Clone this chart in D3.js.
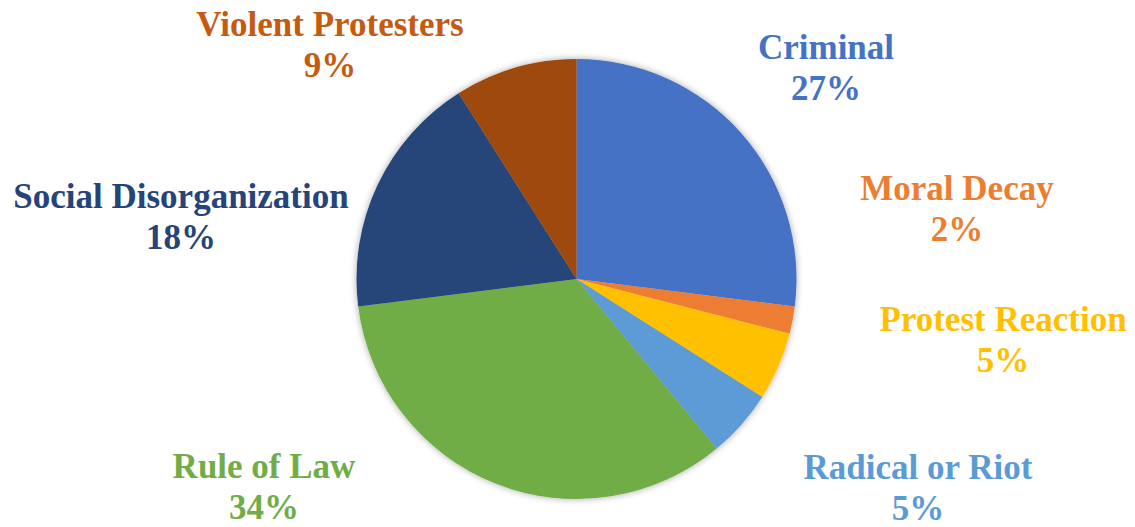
<!DOCTYPE html>
<html>
<head>
<meta charset="utf-8">
<script src="https://cdn.jsdelivr.net/npm/d3@7"></script>
<style>
  html, body { margin: 0; padding: 0; background: #ffffff; }
  svg { display: block; }
  text { font-family: "Liberation Serif", "Times New Roman", serif; font-weight: bold; }
</style>
</head>
<body>
<svg id="chart" width="1135" height="527"></svg>
<script>
// Share of each framing category, in percent, clockwise from 12 o'clock
const categories = ["Criminal", "Moral Decay", "Protest Reaction", "Radical or Riot",
                    "Rule of Law", "Social Disorganization", "Violent Protesters"];
const values = [27, 2, 5, 5, 34, 18, 9];
const sliceColors = ["#4472C4", "#ED7D31", "#FFC000", "#5B9BD5", "#70AD47", "#264478", "#9E480E"];
const labelColors = ["#4472C4", "#ED7D31", "#FFC000", "#5B9BD5", "#70AD47", "#264478", "#C55A11"];
// Label anchor (centre x, first-line baseline) for each category
const labelX = [826, 957, 1003, 918, 264, 181, 330];
const labelY = [59, 200, 331, 479, 478, 208, 36];

const W = 1135, H = 527;
const cx = 576.5, cy = 279, radius = 220;
const lineGap = 41;

const svg = d3.select("#chart");

const defs = svg.append("defs");
const shadow = defs.append("filter").attr("id", "pieShadow")
  .attr("x", "-20%").attr("y", "-20%").attr("width", "140%").attr("height", "140%");
shadow.append("feGaussianBlur").attr("in", "SourceAlpha").attr("stdDeviation", 3.5).attr("result", "blur");
shadow.append("feComponentTransfer").attr("in", "blur").attr("result", "soft")
  .append("feFuncA").attr("type", "linear").attr("slope", 0.35);
const merge = shadow.append("feMerge");
merge.append("feMergeNode").attr("in", "soft");
merge.append("feMergeNode").attr("in", "SourceGraphic");

const data = categories.map((c, i) => ({ name: c, value: values[i], i }));

const pie = d3.pie().value(d => d.value).sort(null);
const arc = d3.arc().innerRadius(0).outerRadius(radius);

const g = svg.append("g")
  .attr("transform", `translate(${cx},${cy})`)
  .attr("filter", "url(#pieShadow)");

g.selectAll("path")
  .data(pie(data))
  .join("path")
  .attr("d", arc)
  .attr("fill", d => sliceColors[d.data.i]);

const labels = svg.append("g")
  .selectAll("text")
  .data(data)
  .join("text")
  .attr("text-anchor", "middle")
  .attr("font-size", 35)
  .attr("fill", d => labelColors[d.i]);

labels.append("tspan")
  .attr("x", d => labelX[d.i])
  .attr("y", d => labelY[d.i])
  .text(d => d.name);

labels.append("tspan")
  .attr("x", d => labelX[d.i])
  .attr("y", d => labelY[d.i] + lineGap)
  .text(d => d.value + "%");
</script>
</body>
</html>
